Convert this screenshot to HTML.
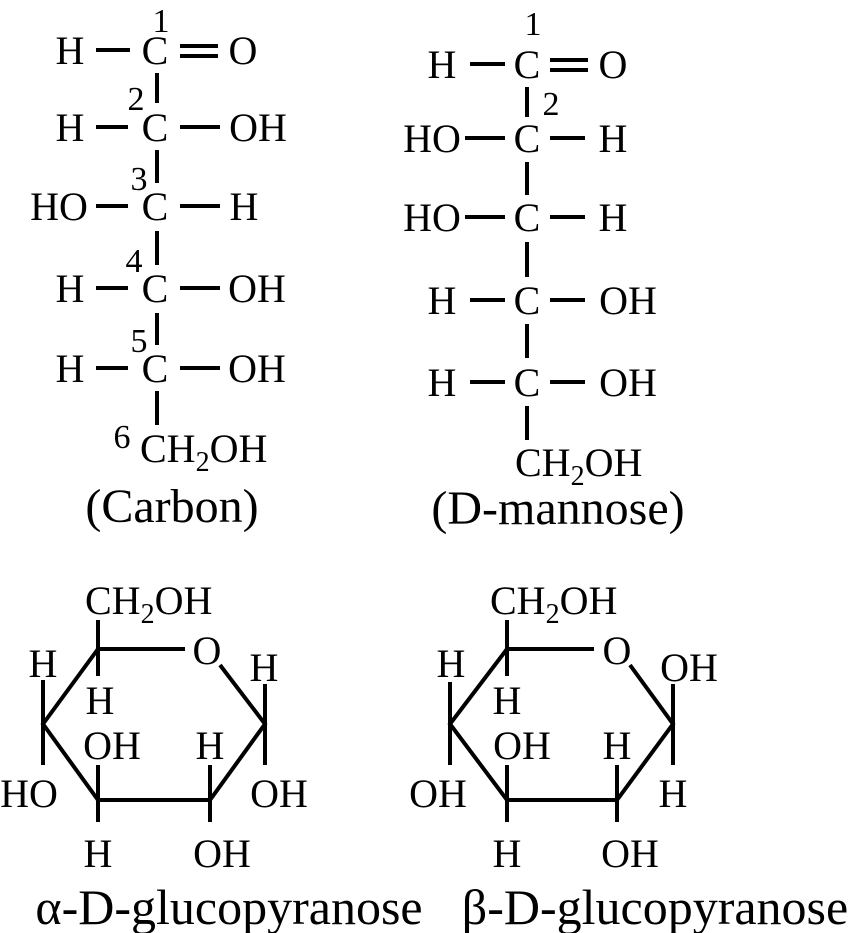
<!DOCTYPE html>
<html><head><meta charset="utf-8"><style>
html,body{margin:0;padding:0;background:#fff;}
svg{display:block;}
text{font-family:"Liberation Serif",serif;fill:#000;}
</style></head><body>
<svg width="849" height="933" viewBox="0 0 849 933" xmlns="http://www.w3.org/2000/svg">
<g font-size="40" text-anchor="middle">
<!-- Left Fischer -->
<g stroke="#000" stroke-width="4">
<line x1="96" y1="50" x2="130" y2="50"/>
<line x1="180" y1="46" x2="218" y2="46"/><line x1="180" y1="56" x2="218" y2="56"/>
<line x1="157" y1="73" x2="157" y2="103"/>
<line x1="96" y1="127" x2="128" y2="127"/><line x1="180" y1="127" x2="220" y2="127"/>
<line x1="157" y1="150" x2="157" y2="183"/>
<line x1="96" y1="206" x2="128" y2="206"/><line x1="180" y1="206" x2="220" y2="206"/>
<line x1="157" y1="231" x2="157" y2="265"/>
<line x1="96" y1="288" x2="128" y2="288"/><line x1="180" y1="288" x2="220" y2="288"/>
<line x1="157" y1="313" x2="157" y2="345"/>
<line x1="96" y1="368" x2="128" y2="368"/><line x1="180" y1="368" x2="220" y2="368"/>
<line x1="157" y1="391" x2="157" y2="425"/>
</g>
<text x="70" y="64">H</text><text x="155" y="64">C</text><text x="243" y="64">O</text>
<text x="70" y="141">H</text><text x="155" y="141">C</text><text x="258" y="141">OH</text>
<text x="59" y="220">HO</text><text x="155" y="220">C</text><text x="244" y="220">H</text>
<text x="70" y="302">H</text><text x="155" y="302">C</text><text x="257" y="302">OH</text>
<text x="70" y="382">H</text><text x="155" y="382">C</text><text x="257" y="382">OH</text>
<text x="140" y="462" text-anchor="start">CH<tspan font-size="28" dy="9">2</tspan><tspan dy="-9">OH</tspan></text>
<text x="172" y="522" font-size="48">(Carbon)</text>
<g font-size="34">
<text x="161" y="32">1</text><text x="136" y="110">2</text><text x="139" y="190">3</text>
<text x="134" y="272">4</text><text x="139" y="352">5</text><text x="122" y="448">6</text>
</g>
<!-- Right Fischer -->
<g stroke="#000" stroke-width="4">
<line x1="470" y1="64" x2="505" y2="64"/>
<line x1="550" y1="60" x2="588" y2="60"/><line x1="550" y1="70" x2="588" y2="70"/>
<line x1="527" y1="87" x2="527" y2="117"/>
<line x1="465" y1="138" x2="505" y2="138"/><line x1="550" y1="138" x2="585" y2="138"/>
<line x1="527" y1="162" x2="527" y2="195"/>
<line x1="465" y1="217" x2="505" y2="217"/><line x1="550" y1="217" x2="585" y2="217"/>
<line x1="527" y1="242" x2="527" y2="277"/>
<line x1="470" y1="300" x2="505" y2="300"/><line x1="550" y1="300" x2="585" y2="300"/>
<line x1="527" y1="324" x2="527" y2="358"/>
<line x1="470" y1="382" x2="505" y2="382"/><line x1="550" y1="382" x2="585" y2="382"/>
<line x1="527" y1="406" x2="527" y2="440"/>
</g>
<text x="442" y="78">H</text><text x="527" y="78">C</text><text x="613" y="78">O</text>
<text x="432" y="152">HO</text><text x="527" y="152">C</text><text x="613" y="152">H</text>
<text x="432" y="231">HO</text><text x="527" y="231">C</text><text x="613" y="231">H</text>
<text x="442" y="314">H</text><text x="527" y="314">C</text><text x="628" y="314">OH</text>
<text x="442" y="396">H</text><text x="527" y="396">C</text><text x="628" y="396">OH</text>
<text x="515" y="476" text-anchor="start">CH<tspan font-size="28" dy="9">2</tspan><tspan dy="-9">OH</tspan></text>
<text x="558" y="524" font-size="48">(D-mannose)</text>
<g font-size="34"><text x="533" y="35">1</text><text x="551" y="115">2</text></g>

<!-- alpha ring -->
<g stroke="#000" stroke-width="4" fill="none" stroke-linecap="butt">
<polyline points="185,649 98,649 43,724 98,800 210,800 265,724 220,665"/>
<line x1="98" y1="620" x2="98" y2="676"/>
<line x1="43" y1="680" x2="43" y2="765"/>
<line x1="265" y1="684" x2="265" y2="765"/>
<line x1="98" y1="765" x2="98" y2="822"/>
<line x1="210" y1="765" x2="210" y2="822"/>
</g>
<text x="85" y="614" text-anchor="start">CH<tspan font-size="28" dy="9">2</tspan><tspan dy="-9">OH</tspan></text>
<text x="207" y="664">O</text>
<text x="43" y="677">H</text><text x="264" y="681">H</text>
<text x="100" y="714">H</text>
<text x="112" y="759">OH</text><text x="210" y="759">H</text>
<text x="29" y="807">HO</text><text x="279" y="807">OH</text>
<text x="98" y="867">H</text><text x="222" y="867">OH</text>
<text x="229" y="924" font-size="50">α-D-glucopyranose</text>

<!-- beta ring -->
<g stroke="#000" stroke-width="4" fill="none">
<polyline points="594,649 507,649 450,724 507,800 617,800 673,724 630,665"/>
<line x1="507" y1="620" x2="507" y2="676"/>
<line x1="450" y1="682" x2="450" y2="765"/>
<line x1="673" y1="684" x2="673" y2="765"/>
<line x1="507" y1="765" x2="507" y2="822"/>
<line x1="617" y1="765" x2="617" y2="822"/>
</g>
<text x="490" y="614" text-anchor="start">CH<tspan font-size="28" dy="9">2</tspan><tspan dy="-9">OH</tspan></text>
<text x="617" y="664">O</text>
<text x="451" y="677">H</text><text x="689" y="681">OH</text>
<text x="507" y="714">H</text>
<text x="522" y="759">OH</text><text x="617" y="759">H</text>
<text x="438" y="807">OH</text><text x="673" y="807">H</text>
<text x="507" y="867">H</text><text x="630" y="867">OH</text>
<text x="655" y="924" font-size="50">β-D-glucopyranose</text>
</g>
</svg>
</body></html>
